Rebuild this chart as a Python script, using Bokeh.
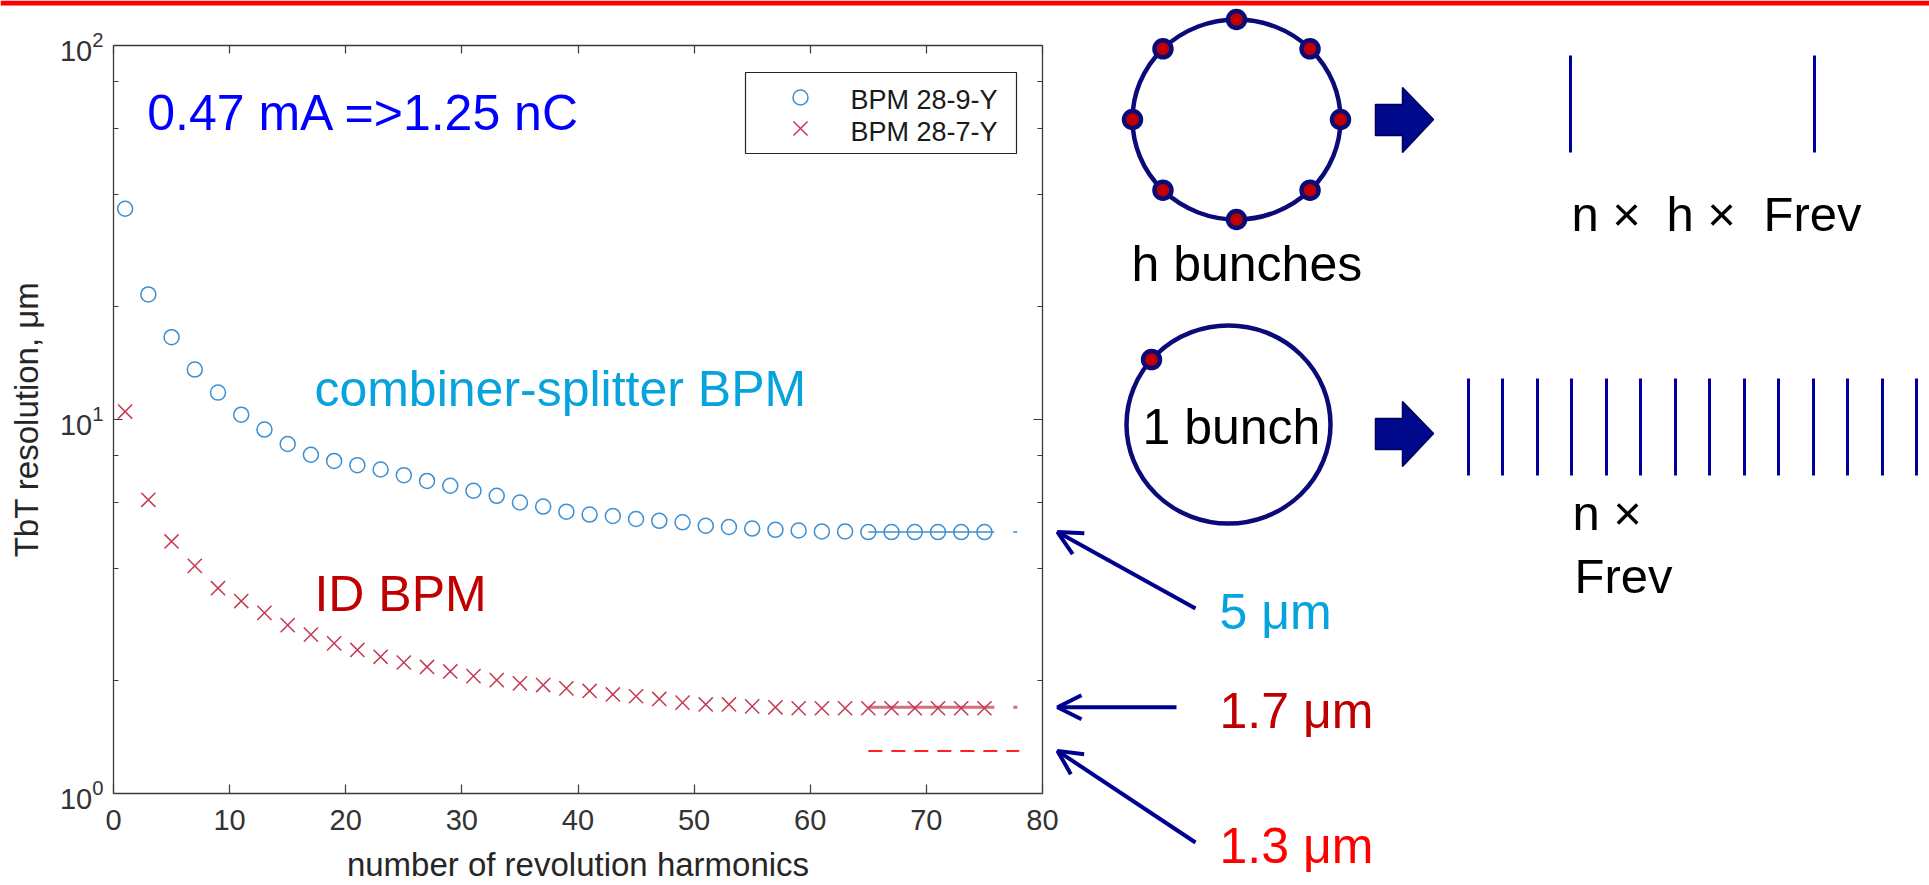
import math

from bokeh.embed import file_html
from bokeh.models import (Arrow, CustomJSTickFormatter, FixedTicker, Label,
                          LinearAxis, LogAxis, LogScale, LogTicker, OpenHead, Range1d)
from bokeh.plotting import figure
from bokeh.resources import INLINE

# ---------------- data ----------------
harmonics = [1, 3, 5, 7, 9, 11, 13, 15, 17, 19, 21, 23, 25, 27, 29, 31, 33, 35, 37,
             39, 41, 43, 45, 47, 49, 51, 53, 55, 57, 59, 61, 63, 65, 67, 69, 71, 73, 75]
bpm_28_9_y = [36.6, 21.6, 16.6, 13.6, 11.8, 10.3, 9.4, 8.6, 8.05, 7.75, 7.55, 7.35,
              7.1, 6.85, 6.65, 6.45, 6.25, 6.0, 5.85, 5.67, 5.57, 5.52, 5.42, 5.36,
              5.31, 5.2, 5.16, 5.11, 5.07, 5.05, 5.02, 5.02, 5.0, 5.0, 5.0, 5.0, 5.0, 5.0]
bpm_28_7_y = [10.5, 6.1, 4.72, 4.06, 3.54, 3.27, 3.04, 2.82, 2.66, 2.52, 2.42, 2.32,
              2.24, 2.18, 2.12, 2.06, 2.01, 1.97, 1.95, 1.91, 1.88, 1.84, 1.82, 1.79,
              1.75, 1.73, 1.73, 1.71, 1.70, 1.69, 1.69, 1.69, 1.69, 1.69, 1.69, 1.69,
              1.69, 1.69]
series_names = ["BPM 28-9-Y", "BPM 28-7-Y"]

x_ticks = [0, 10, 20, 30, 40, 50, 60, 70, 80]

floor_span = [65, 78]              # harmonic range of the resolution floor lines
floor_values = [5.0, 1.7, 1.3]     # resolution floors, um
floor_labels = [f"{v:g} \u03bcm" for v in floor_values]

# ---------------- styles / page geometry ----------------
FONT = "Liberation Sans"
AX = "#3a3a3a"
TICK_TXT = "#333333"
BLUE = "#3d8fd1"
RED = "#c43a52"
CYAN = "#07a3dd"
DARK_RED = "#c00000"
BRIGHT_RED = "#ff0000"
NAVY = "#0a0a78"
ARROW_BLUE = "#00008f"

W, H = 1929, 885
STRIP_H = 5
BOX_L, BOX_R, BOX_T, BOX_B = 113, 1042, 45, 793   # chart box on the page
X_MIN, X_MAX = 0, 80
Y_MIN, Y_MAX = 1, 100

px_per_x = (BOX_R - BOX_L) / (X_MAX - X_MIN)
px_per_dec = (BOX_B - BOX_T) / (math.log10(Y_MAX) - math.log10(Y_MIN))


def level_px(v):
    """Page y (pixels from top) of a resolution value on the chart's log axis."""
    return BOX_B - px_per_dec * (math.log10(v) - math.log10(Y_MIN))


def text(x, y, txt, size, color, **kw):
    """Left-aligned label whose baseline sits at (x, y)."""
    return Label(x=x, y=y, text=txt, text_font=FONT, text_font_size=f"{size}px",
                 text_color=color, text_baseline="middle",
                 y_offset=round(0.345 * size), **kw)


# one canvas in page pixels; the chart lives on its own (log) ranges
p = figure(width=W, height=H, x_range=Range1d(0, W), y_range=Range1d(H, 0),
           x_axis_location=None, y_axis_location=None, min_border=0,
           toolbar_location=None, output_backend="svg")
p.outline_line_color = None
p.grid.visible = False

p.extra_x_ranges = {"cx": Range1d(X_MIN - BOX_L / px_per_x,
                                  X_MAX + (W - BOX_R) / px_per_x)}
p.extra_y_ranges = {"cy": Range1d(10 ** (math.log10(Y_MIN) - (H - BOX_B) / px_per_dec),
                                  10 ** (math.log10(Y_MAX) + BOX_T / px_per_dec))}
p.extra_y_scales = {"cy": LogScale()}
C = dict(x_range_name="cx", y_range_name="cy")

# red strip along the top edge
p.quad(left=[0], right=[W], top=[0], bottom=[STRIP_H], fill_color="#ff0000",
       line_color=None)

# ---------------- chart axes (box) ----------------
blank = CustomJSTickFormatter(code="return ''")


def style_axis(ax, tick_in, minor_in=None):
    ax.major_tick_in = tick_in
    ax.major_tick_out = 0
    if minor_in is None:
        ax.minor_tick_line_color = None
    else:
        ax.minor_tick_in = minor_in
        ax.minor_tick_out = 0
        ax.minor_tick_line_color = AX
        ax.minor_tick_line_width = 1.2
    ax.axis_line_color = AX
    ax.axis_line_width = 1.3
    ax.major_tick_line_color = AX
    ax.major_tick_line_width = 1.2
    ax.major_label_text_font = FONT
    ax.major_label_text_font_size = "29px"
    ax.major_label_text_color = TICK_TXT
    ax.axis_label_text_font = FONT
    ax.axis_label_text_font_size = "33px"
    ax.axis_label_text_font_style = "normal"
    ax.axis_label_text_color = "#262626"


xb = LinearAxis(fixed_location=Y_MIN, bounds=(X_MIN, X_MAX),
                ticker=FixedTicker(ticks=x_ticks), **C)
style_axis(xb, 9)
xb.major_label_standoff = 16
xb.axis_label = "number of revolution harmonics"
xb.axis_label_standoff = 13
p.add_layout(xb, "below")

yl = LogAxis(fixed_location=X_MIN, bounds=(Y_MIN, Y_MAX), ticker=LogTicker(), **C)
style_axis(yl, 9, 5)
yl.major_label_standoff = 10
yl.axis_label = "TbT resolution, \u03bcm"
yl.axis_label_standoff = 12
p.add_layout(yl, "left")

xt = LinearAxis(fixed_location=Y_MAX, bounds=(X_MIN, X_MAX),
                ticker=FixedTicker(ticks=x_ticks), formatter=blank, **C)
style_axis(xt, 8)
xt.major_label_standoff = 0
p.add_layout(xt, "above")

yr = LogAxis(fixed_location=X_MAX, bounds=(Y_MIN, Y_MAX), ticker=LogTicker(),
             formatter=blank, **C)
style_axis(yr, 9, 5)
yr.major_label_standoff = 0
p.add_layout(yr, "right")

# ---------------- chart content ----------------
p.line(floor_span, [floor_values[0]] * 2, line_color=BLUE, line_width=1.5,
       line_dash="126 19 4 40", **C)
p.line(floor_span, [floor_values[1]] * 2, line_color="#d07080", line_width=3,
       line_dash="126 19 4 40", **C)
p.line(floor_span, [floor_values[2]] * 2, line_color="#ff2020", line_width=2,
       line_dash="14 9", **C)

MARK_O = dict(marker="circle", size=15, fill_color=None, line_color=BLUE,
              line_width=1.5)
MARK_X = dict(marker="x", size=20, line_color=RED, line_width=1.5)
p.scatter(harmonics, bpm_28_9_y, **MARK_O, **C)
p.scatter(harmonics, bpm_28_7_y, **MARK_X, **C)

# legend box (page pixels)
LEG_L, LEG_R, LEG_T, LEG_B = 745, 1016, 72, 153
leg_rows = [108, 140]        # text baselines
leg_marks = [97, 128]        # marker centres
p.quad(left=[LEG_L], right=[LEG_R], top=[LEG_T], bottom=[LEG_B],
       fill_color="white", line_color="#262626", line_width=1.2)
p.scatter([800], [leg_marks[0]], **MARK_O)
p.scatter([800], [leg_marks[1]], **MARK_X)
for yb, name in zip(leg_rows, series_names):
    p.add_layout(text(850, yb, name, 27, "#1a1a1a"))

for x, y, txt, col in ((2.9, 59.3, "0.47 mA =>1.25 nC", "#0000ff"),
                       (17.3, 10.9, "combiner-splitter BPM", CYAN),
                       (17.3, 3.08, "ID BPM", DARK_RED)):
    p.add_layout(text(x, y, txt, 50, col, **C))

# ---------------- bunch / spectrum sketch (page pixels) ----------------
ring_cx, ring_cy, ring_rx, ring_ry = 1236, 119, 104, 100
bunch_angles = [90, 45, 0, -45, -90, -135, 180, 135]
p.ellipse(x=[ring_cx], y=[ring_cy], width=[2 * ring_rx], height=[2 * ring_ry],
          fill_color=None, line_color=NAVY, line_width=4.5)
p.scatter(x=[ring_cx + ring_rx * math.cos(math.radians(a)) for a in bunch_angles],
          y=[ring_cy - ring_ry * math.sin(math.radians(a)) for a in bunch_angles],
          marker="circle", size=17, fill_color=DARK_RED, line_color=NAVY,
          line_width=4.5)

one_cx, one_cy, one_rx, one_ry = 1228, 424, 102, 99
one_angle = 139
p.ellipse(x=[one_cx], y=[one_cy], width=[2 * one_rx], height=[2 * one_ry],
          fill_color=None, line_color=NAVY, line_width=4.5)
p.scatter(x=[one_cx + one_rx * math.cos(math.radians(one_angle))],
          y=[one_cy - one_ry * math.sin(math.radians(one_angle))],
          marker="circle", size=17, fill_color=DARK_RED, line_color=NAVY,
          line_width=4.5)

for cy in (119, 433):
    p.patch(x=[1375, 1402, 1402, 1433, 1402, 1402, 1375],
            y=[cy - 15, cy - 15, cy - 32, cy, cy + 33, cy + 16, cy + 16],
            fill_color="#00098c", line_color="#00005a", line_width=1.5)

top_lines = [1570, 1814]
p.segment(x0=top_lines, y0=[55] * 2, x1=top_lines, y1=[152] * 2,
          line_color="#0000a0", line_width=3)
comb_lines = [1468, 1502, 1537, 1571, 1606, 1640, 1675, 1709, 1744, 1778, 1813,
              1847, 1882, 1916]
p.segment(x0=comb_lines, y0=[378] * len(comb_lines), x1=comb_lines,
          y1=[475] * len(comb_lines), line_color="#0000a0", line_width=3)

sketch_text = [(1131, 280, "h bunches", 50), (1142, 443, "1 bunch", 50),
               (1571, 230, "n \u00d7", 49), (1666, 230, "h \u00d7", 49),
               (1763, 230, "Frev", 49), (1572, 529, "n \u00d7", 49),
               (1574, 592, "Frev", 49)]
for x, y, txt, fs in sketch_text:
    p.add_layout(text(x, y, txt, fs, "black"))

# pointers to the resolution floors
tails = [(1195, 608), (1176, None), (1195, 842)]
label_base = [628, 727, 862]
label_colors = [CYAN, DARK_RED, BRIGHT_RED]
for v, (tx, ty), lb, txt, col in zip(floor_values, tails, label_base,
                                     floor_labels, label_colors):
    tip_y = level_px(v)
    p.add_layout(Arrow(end=OpenHead(size=24, line_width=4, line_color=ARROW_BLUE),
                       x_start=tx, y_start=tip_y if ty is None else ty,
                       x_end=1057, y_end=tip_y,
                       line_width=4, line_color=ARROW_BLUE))
    p.add_layout(text(1219, lb, txt, 50, col))

with open("out.html", "w") as f:
    f.write(file_html(p, INLINE))
